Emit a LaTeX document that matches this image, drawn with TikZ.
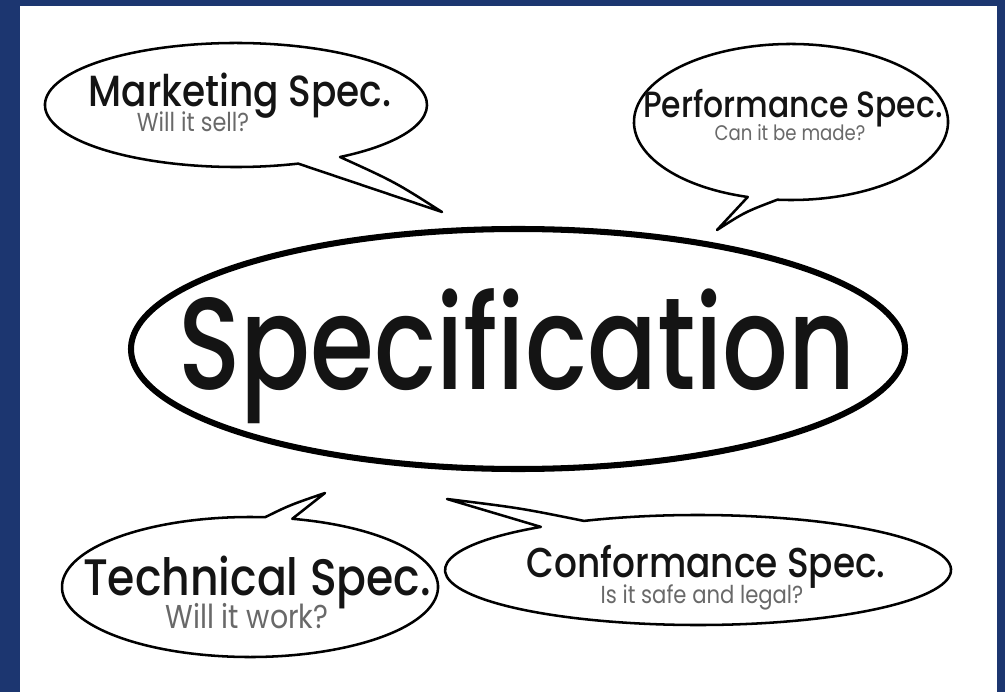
\documentclass[tikz,border=0pt]{standalone}
\usepackage{fontspec}
\setmainfont{Poppins}[FakeStretch=0.86, UprightFont=* Medium]
\newfontfamily\askfont{Poppins}[FakeStretch=0.86]
\newfontfamily\bigfont{Poppins}[FakeStretch=0.79, UprightFont=* Medium]

\definecolor{frameblue}{RGB}{28,54,112}
\definecolor{askgray}{RGB}{105,105,105}

\newcommand{\fs}[1]{\fontsize{#1}{#1}\selectfont}

\begin{document}
\begin{tikzpicture}[x=0.25mm, y=-0.25mm,
        bubble/.style={draw=black, line width=1.8pt, fill=white, line join=round},
        head/.style={anchor=base, inner sep=0pt, text=black!92},
        ask/.style={anchor=base, inner sep=0pt, text=askgray}]
        \useasboundingbox (0,0) rectangle (1005,692);
        \fill [frameblue] (0,0) rectangle (1005,692);
        \fill [white] (20,6) rectangle (997,692);
        \coordinate (mk) at (236,105);
        \coordinate (pf) at (791,122);
        \coordinate (tc) at (250,587);
        \coordinate (cf) at (698,570);
        \coordinate (mktip) at (442,212);
        \coordinate (pftip) at (717,230);
        \coordinate (tctip) at (325,493);
        \coordinate (cftip) at (447,499);
        \draw [line width=4.3pt] (518,349) ellipse [x radius=387, y radius=120];
        \draw [bubble] ([shift={(71:191 and 62)}]mk) arc [start angle=71, end angle=417, x radius=191, y radius=62]
                .. controls (395,182) .. (mktip) -- cycle;
        \draw [bubble] ([shift={(106:157 and 78)}]pf) arc [start angle=106, end angle=455, x radius=157, y radius=78]
                .. controls (745,212) .. (pftip) -- cycle;
        \draw [bubble] ([shift={(-77:188 and 70)}]tc) arc [start angle=-77, end angle=274.6, x radius=188, y radius=70]
                .. controls (290,505) .. (tctip) -- cycle;
        \draw [bubble] ([shift={(243.2:253 and 55)}]cf) arc [start angle=243.2, end angle=591.6, x radius=253, y radius=55]
                -- (cftip) .. controls (520,508) .. cycle;
        \node [head, font=\bigfont\fs{93pt}] (spec) at (517,389) {Specification};
        \node [head, font=\fs{31pt}] (mkhead) at (240,107) {Marketing Spec.};
        \node [ask, font=\askfont\fs{18.5pt}] (mkask) at (193,132) {Will it sell?};
        \node [head, font=\fs{26pt}] (pfhead) at (793,118) {Performance Spec.};
        \node [ask, font=\askfont\fs{15pt}] (pfask) at (790,141) {Can it be made?};
        \node [head, font=\fs{36.5pt}] (tchead) at (257,595) {Technical Spec.};
        \node [ask, font=\askfont\fs{23.5pt}] (tcask) at (247,628) {Will it work?};
        \node [head, font=\fs{29.7pt}] (cfhead) at (706,577) {Conformance Spec.};
        \node [ask, font=\askfont\fs{17.5pt}] (cfask) at (702,603) {Is it safe and legal?};
\end{tikzpicture}
\end{document}
